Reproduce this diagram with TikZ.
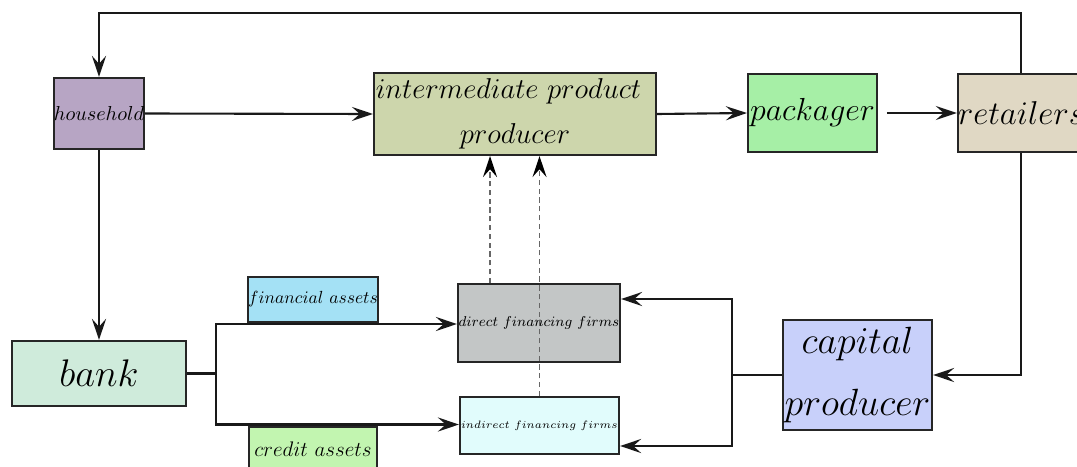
\RequirePackage{fix-cm}
\documentclass[tikz,border=0pt]{standalone}
\usetikzlibrary{arrows.meta,calc}
\definecolor{chouse}{RGB}{183,165,196}
\definecolor{cinter}{RGB}{205,214,172}
\definecolor{cpack}{RGB}{166,239,166}
\definecolor{cretail}{RGB}{224,216,196}
\definecolor{cbank}{RGB}{207,235,219}
\definecolor{cfin}{RGB}{164,225,245}
\definecolor{ccred}{RGB}{194,245,176}
\definecolor{cdirect}{RGB}{195,198,198}
\definecolor{cindirect}{RGB}{225,252,252}
\definecolor{ccap}{RGB}{200,208,250}
\tikzset{
  box/.style={draw=black!85, line width=1.2pt, inner sep=0pt, align=center},
  arr/.style={draw=black!90, line width=1.2pt, -{Stealth[length=12pt,width=8pt,inset=4.5pt]}},
  ln/.style={draw=black!90, line width=1.2pt},
  dsh/.style={draw=black!60, line width=1pt, dash pattern=on 3pt off 2pt, -{Stealth[length=12pt,width=8pt,inset=4.5pt,color=black,fill=black]}}
}
\newcommand{\fs}[2]{\fontsize{#1}{#2}\selectfont}
\begin{document}
\begin{tikzpicture}[x=0.02cm,y=-0.02cm]
\useasboundingbox (0,0) rectangle (1077,466);
\clip (0,0) rectangle (1077,466);
% nodes
\node[box, fill=chouse, minimum width=1.76cm, minimum height=1.42cm, font=\fs{11.5}{13}] (house) at (99,113.5) {$household$};
\node[box, fill=cinter, minimum width=5.64cm, minimum height=1.64cm, font=\fs{16.35}{25.5}] (inter) at (515,114) {$intermediate\ product$\kern0.26cm\\ $producer$};
\node[box, fill=cpack, minimum width=2.58cm, minimum height=1.56cm, font=\fs{18.15}{20}] (pack) at (812.5,113) {$packager$};
\node[box, fill=cretail, minimum width=2.52cm, minimum height=1.56cm, font=\fs{18.8}{20}] (retail) at (1021,113) {$retailers$};
\node[box, fill=cbank, minimum width=3.48cm, minimum height=1.3cm, font=\fs{21.9}{22}] (bank) at (99,373.5) {$bank$};
\node[box, fill=cfin, minimum width=2.56cm, minimum height=0.9cm, font=\fs{10}{12}] (fin) at (313,299.5) {$financial\ assets$};
\node[box, fill=ccred, minimum width=2.56cm, minimum height=0.9cm, font=\fs{12}{13}] (cred) at (313,449.5) {$credit\ assets$};
\node[box, fill=cdirect, minimum width=3.24cm, minimum height=1.56cm, font=\fs{8.15}{10}] (direct) at (539,323) {$direct\ financing\ firms$};
\node[box, fill=cindirect, minimum width=3.18cm, minimum height=1.14cm, font=\fs{6.1}{8}] (indirect) at (539.5,425.5) {$indirect\ financing\ firms$};
\node[box, fill=ccap, minimum width=2.98cm, minimum height=2.2cm, font=\fs{21.6}{35}] (cap) at (857.5,375) {$capital$\\ $producer$};
% junctions
\coordinate (bj) at (216,373.5);
\coordinate (cj) at (732,375);
\coordinate (top) at (0,13);
% connectors
\draw[arr] (retail.north) -- (retail.north |- top) -| (house.north);
\draw[arr] (house.east) -- (inter.west);
\draw[arr] (inter.east) -- (pack.west);
\draw[arr, shorten <=5pt] (pack.east) -- (retail.west);
\draw[arr] (house.south) -- (bank.north);
\draw[ln] (bank.east) -- (bj);
\draw[arr] (bj) |- ([yshift=-0.02cm]direct.west);
\draw[arr] (bj) |- ([yshift=0.02cm]indirect.west);
\draw[arr] (retail.south) |- (cap.east);
\draw[ln] (cap.west) -- (cj);
\draw[arr] (cj) |- ([yshift=0.48cm]direct.east);
\draw[arr] (cj) |- ([yshift=-0.41cm]indirect.east);
\draw[dsh] ([xshift=-0.98cm]direct.north) -- ([xshift=-0.98cm]direct.north |- inter.south);
\draw[dsh] (indirect.north) -- (indirect.north |- inter.south);
\end{tikzpicture}
\end{document}
